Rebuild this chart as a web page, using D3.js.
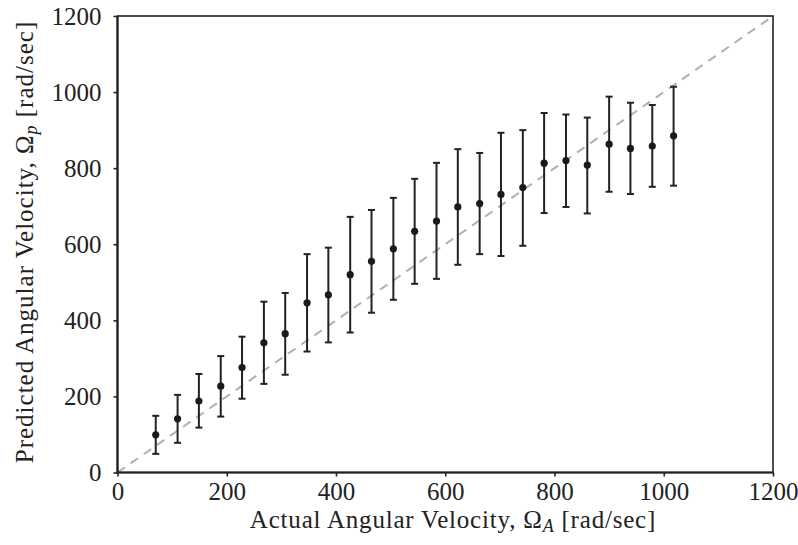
<!DOCTYPE html>
<html>
<head>
<meta charset="utf-8">
<script src="https://cdn.jsdelivr.net/npm/d3@7"></script>
<style>
    html, body { margin: 0; padding: 0; background: #fff; }
    #root { width: 798px; height: 545px; }
</style>
</head>
<body>
<div id="root"></div>
<script>
// 데이터
const actual = [70, 110, 149, 189, 228, 268, 307, 347, 386, 426, 465, 505, 544,
                584, 623, 663, 702, 742, 781, 821, 860, 900, 939, 979, 1018];
const predicted = [99, 141, 188, 227, 276, 341, 365, 446, 467, 520, 555, 588, 634,
                   661, 698, 707, 731, 749, 813, 820, 808, 863, 852, 858, 885];
const upper = [149, 204, 259, 306, 357, 449, 472, 574, 591, 672, 690, 722, 772,
               814, 850, 840, 893, 900, 945, 941, 933, 988, 972, 966, 1014];
const lower = [49, 78, 118, 147, 194, 233, 257, 318, 342, 368, 420, 454, 496,
               509, 546, 574, 569, 596, 682, 698, 681, 738, 732, 751, 754];
const xTicks = [0, 200, 400, 600, 800, 1000, 1200];
const yTicks = [0, 200, 400, 600, 800, 1000, 1200];

const FONT = '"Liberation Serif", "Times New Roman", serif';
const width = 798, height = 545;
const margin = { left: 117.5, right: 25, top: 16, bottom: 72.5 };
const plotW = width - margin.left - margin.right;
const plotH = height - margin.top - margin.bottom;

const svg = d3.select('#root').append('svg')
    .attr('width', width)
    .attr('height', height)
    .attr('font-family', FONT);

const g = svg.append('g').attr('transform', `translate(${margin.left},${margin.top})`);

const x = d3.scaleLinear().domain([0, 1200]).range([0, plotW]);
const y = d3.scaleLinear().domain([0, 1200]).range([plotH, 0]);

// 대각선 (y = x)
g.append('line')
    .attr('x1', x(0)).attr('y1', y(0))
    .attr('x2', x(1200)).attr('y2', y(1200))
    .attr('stroke', '#b0b0b0')
    .attr('stroke-width', 2)
    .attr('stroke-dasharray', '9,7');

// 축
const fmt = d3.format('d');
const xAxis = g.append('g')
    .attr('transform', `translate(0,${plotH})`)
    .call(d3.axisBottom(x).tickValues(xTicks).tickFormat(fmt).tickSize(4).tickPadding(6).tickSizeOuter(0));
const yAxis = g.append('g')
    .call(d3.axisLeft(y).tickValues(yTicks).tickFormat(fmt).tickSize(4).tickPadding(12).tickSizeOuter(0));

[xAxis, yAxis].forEach(a => {
    a.attr('font-family', FONT).attr('font-size', 25);
    a.select('.domain').remove();
    a.selectAll('.tick line').attr('stroke', '#222').attr('stroke-width', 1.6);
    a.selectAll('.tick text').attr('fill', '#222');
});

// 테두리
g.append('rect')
    .attr('x', 0).attr('y', 0)
    .attr('width', plotW).attr('height', plotH)
    .attr('fill', 'none')
    .attr('stroke', '#222')
    .attr('stroke-width', 1.6);
g.append('path')
    .attr('d', `M 0 0 V ${plotH} H ${plotW}`)
    .attr('fill', 'none')
    .attr('stroke', '#222')
    .attr('stroke-width', 2.2);

// 에러바
const bars = g.append('g').attr('stroke', '#222').attr('stroke-width', 2);
actual.forEach((a, i) => {
    bars.append('line')
        .attr('x1', x(a)).attr('x2', x(a))
        .attr('y1', y(lower[i])).attr('y2', y(upper[i]));
    [lower[i], upper[i]].forEach(v => {
        bars.append('line')
            .attr('x1', x(a) - 3.5).attr('x2', x(a) + 3.5)
            .attr('y1', y(v)).attr('y2', y(v));
    });
});

g.append('g').selectAll('circle')
    .data(actual)
    .join('circle')
    .attr('cx', d => x(d))
    .attr('cy', (d, i) => y(predicted[i]))
    .attr('r', 3.6)
    .attr('fill', '#1a1a1a');

// 축 제목
const xt = svg.append('text')
    .attr('x', 453).attr('y', 528)
    .attr('text-anchor', 'middle')
    .attr('fill', '#222')
    .attr('font-size', 25)
    .attr('letter-spacing', 0.8);
xt.append('tspan').text('Actual Angular Velocity,  Ω');
xt.append('tspan').attr('dy', 4).attr('font-size', 18).attr('font-style', 'italic').text('A');
xt.append('tspan').attr('dy', -4).text(' [rad/sec]');

const yt = svg.append('text')
    .attr('transform', 'translate(33,242) rotate(-90)')
    .attr('text-anchor', 'middle')
    .attr('fill', '#222')
    .attr('font-size', 25)
    .attr('letter-spacing', 1.0);
yt.append('tspan').text('Predicted Angular Velocity,  Ω');
yt.append('tspan').attr('dy', 4).attr('font-size', 18).attr('font-style', 'italic').text('p');
yt.append('tspan').attr('dy', -4).text(' [rad/sec]');
</script>
</body>
</html>
